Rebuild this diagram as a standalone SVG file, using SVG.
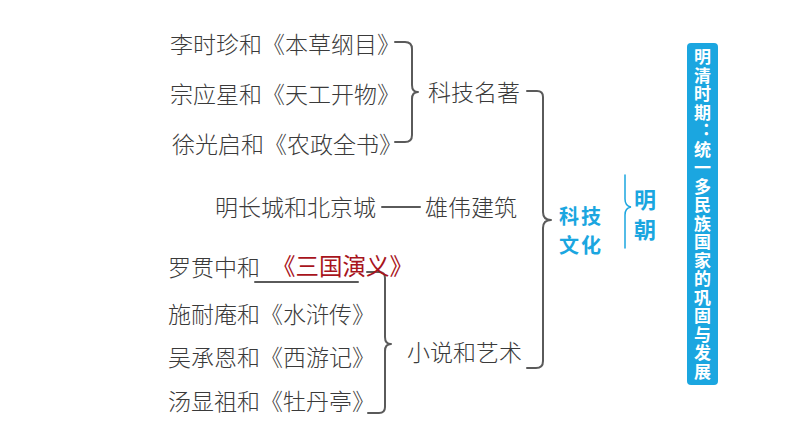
<svg xmlns="http://www.w3.org/2000/svg" width="794" height="447" viewBox="0 0 794 447">
<style>
.t{font-family:"Noto Sans CJK SC","Noto Sans CJK TC",sans-serif;font-size:23px;fill:#3a3a3a;font-weight:300}
.red{font-family:"Noto Sans CJK SC",sans-serif;font-size:23.5px;fill:#a8141c;font-weight:400}
.b{font-family:"Noto Sans CJK SC",sans-serif;font-size:22px;fill:#1ba6e0;font-weight:700}
.b2{font-family:"Noto Sans CJK SC",sans-serif;font-size:20px;fill:#1ba6e0;font-weight:700;letter-spacing:2px}
.w{font-family:"Noto Sans CJK SC",sans-serif;font-size:17px;fill:#ffffff;font-weight:700;letter-spacing:1.5px}
.ln{fill:none;stroke:#5a5a5a;stroke-width:2;stroke-linecap:round;stroke-linejoin:round}
.bl{fill:none;stroke:#1ba6e0;stroke-width:1.5;stroke-linecap:round}
</style>
<rect width="794" height="447" fill="#ffffff"/>
<g id="connectors">
<path class="ln" d="M395,42 H405 Q412,42 412,49 V85 Q412,92 418,92 Q412,92 412,99 V135 Q412,142 405,142 H395"/>
<path class="ln" d="M527,91 H537 Q543,91 543,97 V212 Q543,220 551,220 Q543,220 543,228 V361 Q543,368 536,368 H527"/>
<path class="ln" d="M367,272 H379 Q385,272 385,278 V337 Q385,344 391,344 Q385,344 385,351 V407 Q385,413 379,413 H368"/>
<line class="ln" x1="255" y1="282" x2="358" y2="282" stroke-width="1.6"/>
<line class="ln" x1="382" y1="207" x2="420" y2="207" stroke-width="1.6"/>
<path class="bl" d="M625,175 V199 Q625,206 631,207 Q625,208 625,215 V248"/>
</g>
<g id="n-bencao"><text class="t" x="170" y="53">李时珍和《本草纲目》</text></g>
<g id="n-tiangong"><text class="t" x="170" y="103">宗应星和《天工开物》</text></g>
<g id="n-nongzheng"><text class="t" x="172" y="153">徐光启和《农政全书》</text></g>
<g id="n-kejimingzhu"><text class="t" x="428" y="101">科技名著</text></g>
<g id="n-changcheng"><text class="t" x="215" y="216">明长城和北京城</text><text class="t" x="425" y="216">雄伟建筑</text></g>
<g id="n-sanguo"><text class="t" x="168" y="276">罗贯中和</text><text class="red" x="272" y="275">《三国演义》</text></g>
<g id="n-shuihu"><text class="t" x="168" y="323">施耐庵和《水浒传》</text></g>
<g id="n-xiyou"><text class="t" x="168" y="366">吴承恩和《西游记》</text></g>
<g id="n-mudan"><text class="t" x="168" y="410">汤显祖和《牡丹亭》</text></g>
<g id="n-xiaoshuo"><text class="t" x="407" y="361">小说和艺术</text></g>
<g id="n-kejiwenhua"><text class="b2" x="559" y="224">科技</text><text class="b2" x="559" y="253">文化</text></g>
<g id="n-mingchao"><text class="b" x="634" y="208">明</text><text class="b" x="634" y="238">朝</text></g>
<g id="n-title">
<rect x="687" y="43" width="31" height="342" rx="4" fill="#1ba6e0"/>
<text class="w" x="702.5" y="48.5" writing-mode="vertical-rl">明清时期：统一多民族国家的巩固与发展</text>
</g>
</svg>
